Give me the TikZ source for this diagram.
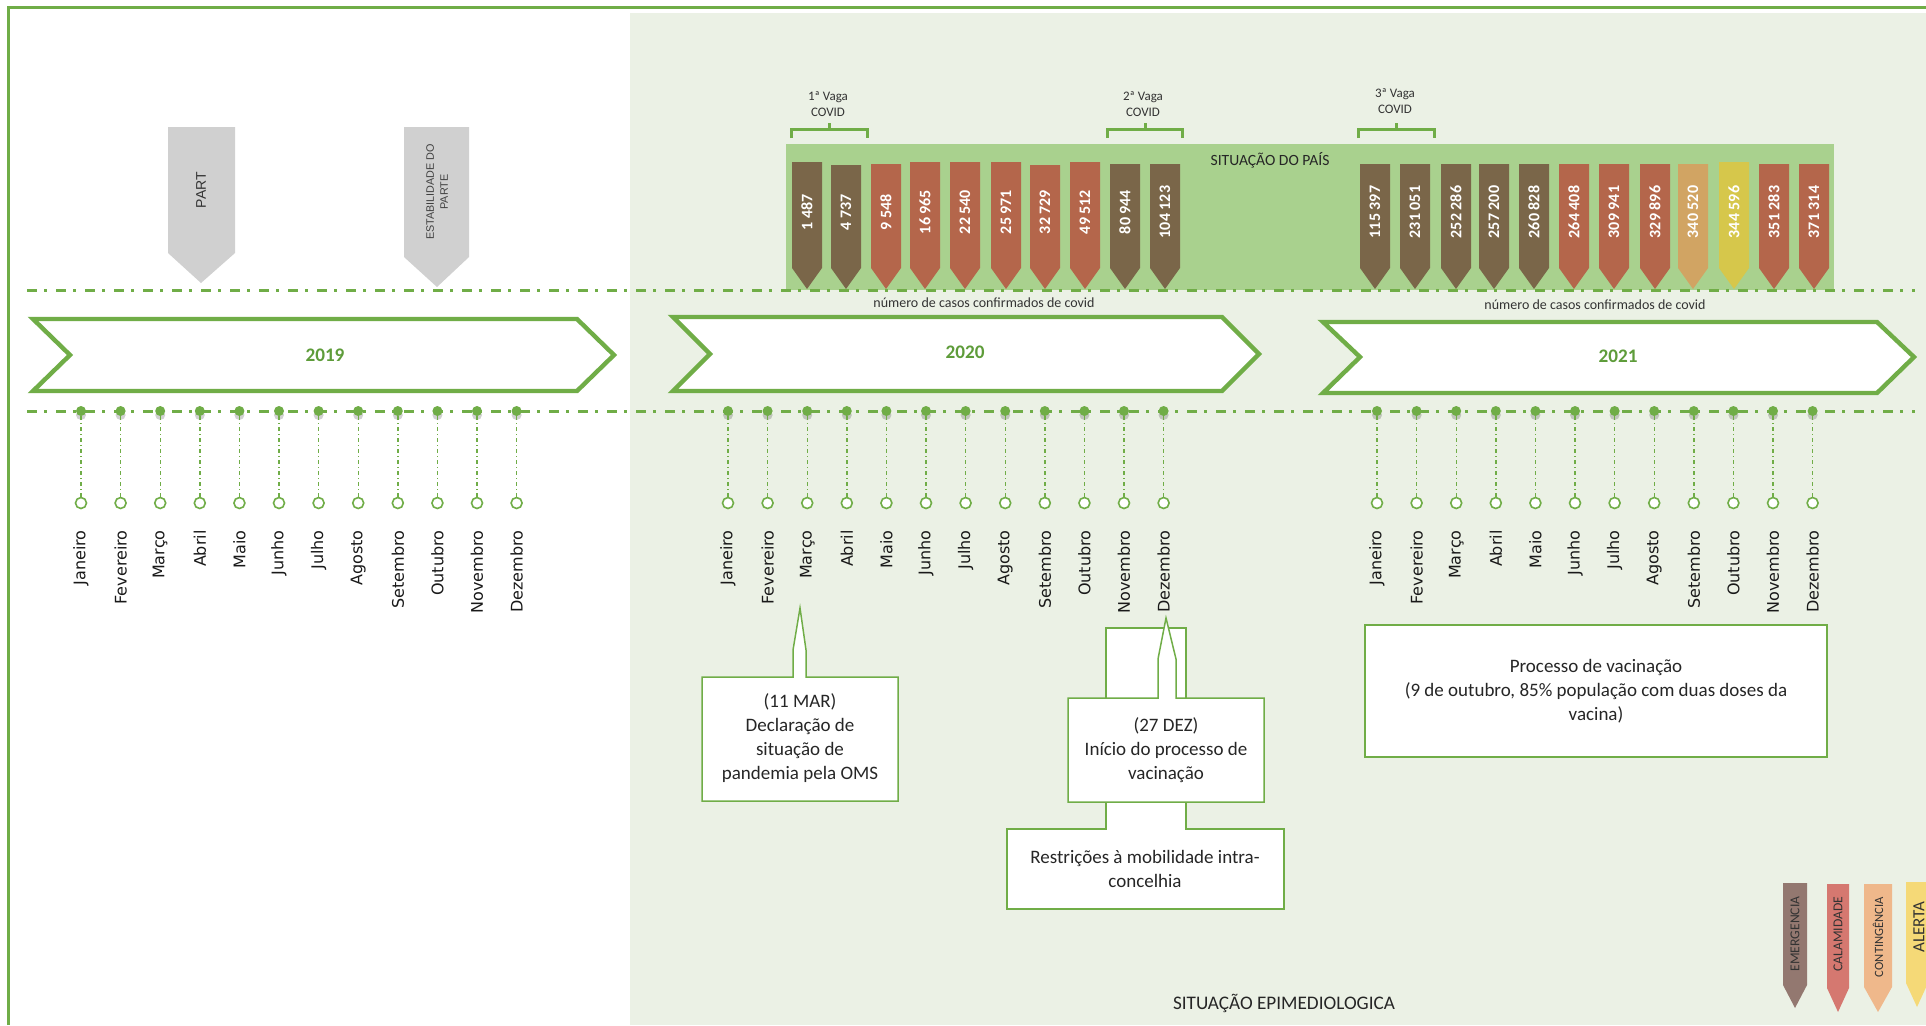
\documentclass[tikz,border=0pt]{standalone}
\usepackage{fontspec}
\setmainfont{Carlito}
\newfontfamily\monthfont{DejaVu Sans}
\newfontfamily\pinfont{Liberation Sans}
\usepackage{xcolor}
\usepackage{tikz}
\definecolor{framegreen}{HTML}{70AD47}
\definecolor{yeargreen}{HTML}{5E9C3A}
\definecolor{paleback}{HTML}{EBF1E5}
\definecolor{boxgreen}{HTML}{A9D18E}
\definecolor{levbrown}{HTML}{7A6649}
\definecolor{levred}{HTML}{B4664B}
\definecolor{levtan}{HTML}{D1A463}
\definecolor{levyellow}{HTML}{D6C74B}
\definecolor{pingray}{HTML}{D0D0D0}
\definecolor{legemerg}{HTML}{937870}
\definecolor{legcalam}{HTML}{D57870}
\definecolor{legconti}{HTML}{EFB88B}
\definecolor{legalert}{HTML}{F5D977}

\tikzset{
  yearbar/.style={draw=framegreen, fill=white, line width=2.2pt, line join=miter},
  yeartext/.style={font=\bfseries\fontsize{9.6}{11}\selectfont, text=yeargreen},
  timeline/.style={framegreen, line width=1.5pt, dash pattern=on 5pt off 3.5pt on 1.5pt off 4.5pt},
  tickline/.style={framegreen, line width=0.7pt, dash pattern=on 2pt off 1.5pt on 0.5pt off 1.5pt},
  monthdot/.style={circle, fill=framegreen, inner sep=0pt, minimum size=5pt},
  monthring/.style={circle, draw=framegreen, fill=white, line width=0.8pt, inner sep=0pt, minimum size=5.5pt},
  monthname/.style={font=\monthfont\fontsize{8}{9}\selectfont, text=black!90, rotate=90, anchor=east, inner sep=0pt},
  casenum/.style={font=\bfseries\fontsize{8}{9}\selectfont, text=white, rotate=90, inner sep=0pt},
  wavetext/.style={font=\fontsize{6.5}{7.8}\selectfont, text=black!80, align=center},
  bracket/.style={framegreen, line width=1.5pt},
  callbox/.style={draw=framegreen, fill=white, line width=0.75pt},
  calltext/.style={font=\fontsize{9.5}{12}\selectfont, text=black!85, align=center},
  legtext/.style={font=\fontsize{6.8}{8}\selectfont, text=black!80, rotate=90, inner sep=0pt},
}

% pin with a number: x, top, colour, name, label
\newcommand{\casepin}[5]{%
  \fill[#3] (#1-15,#2) -- (#1+15,#2) -- (#1+15,268) -- (#1,289) -- (#1-15,268) -- cycle;
  \node[casenum] (#4) at (#1,212) {#5};}

\begin{document}
\begin{tikzpicture}[x=0.5pt, y=-0.5pt]
  \useasboundingbox (0,0) rectangle (1926,1025);
  \fill[white] (0,0) rectangle (1926,1025);
  \fill[paleback] (630,13) rectangle (1926,1025);
  \draw[framegreen, line width=1.5pt] (8,1025) -- (8,7) -- (1926,7);

  % grey pins 2019
  \fill[pingray] (168,127) -- (235,127) -- (235,253) -- (201,283) -- (168,253) -- cycle;
  \node[font=\pinfont\fontsize{7}{8}\selectfont, text=black!80, rotate=90] (part) at (201,190) {PART};
  \fill[pingray] (404,127) -- (469,127) -- (469,257) -- (437,287) -- (404,257) -- cycle;
  \node[font=\pinfont\fontsize{5.4}{7}\selectfont, text=black!75, rotate=90, align=center] (estab) at (437,192) {ESTABILIDADE DO\\PARTE};

  % country situation
  \fill[boxgreen] (786,144) rectangle (1834,290);
  \node[font=\fontsize{7.8}{9}\selectfont, text=black!85] (pais) at (1270,160) {SITUAÇÃO DO PAÍS};

  % 2020 cases
  \casepin{807}{162}{levbrown}{c20-3}{1 487}
  \casepin{846}{165}{levbrown}{c20-4}{4 737}
  \casepin{886}{164}{levred}{c20-5}{9 548}
  \casepin{925}{162}{levred}{c20-6}{16 965}
  \casepin{965}{162}{levred}{c20-7}{22 540}
  \casepin{1006}{162}{levred}{c20-8}{25 971}
  \casepin{1045}{165}{levred}{c20-9}{32 729}
  \casepin{1085}{162}{levred}{c20-10}{49 512}
  \casepin{1125}{164}{levbrown}{c20-11}{80 944}
  \casepin{1165}{164}{levbrown}{c20-12}{104 123}
  % 2021 cases
  \casepin{1375}{164}{levbrown}{c21-1}{115 397}
  \casepin{1415}{164}{levbrown}{c21-2}{231 051}
  \casepin{1456}{164}{levbrown}{c21-3}{252 286}
  \casepin{1494}{164}{levbrown}{c21-4}{257 200}
  \casepin{1534}{164}{levbrown}{c21-5}{260 828}
  \casepin{1574}{164}{levred}{c21-6}{264 408}
  \casepin{1614}{164}{levred}{c21-7}{309 941}
  \casepin{1655}{164}{levred}{c21-8}{329 896}
  \casepin{1693}{164}{levtan}{c21-9}{340 520}
  \casepin{1734}{162}{levyellow}{c21-10}{344 596}
  \casepin{1774}{164}{levred}{c21-11}{351 283}
  \casepin{1814}{164}{levred}{c21-12}{371 314}

  % waves
  \draw[bracket] (791,138) -- (791,129) -- (867,129) -- (867,138) (829,129) -- (829,123);
  \node[wavetext] (vaga1) at (828,104) {1ª Vaga\\COVID};
  \draw[bracket] (1107,138) -- (1107,129) -- (1182,129) -- (1182,138) (1145,129) -- (1145,123);
  \node[wavetext] (vaga2) at (1143,104) {2ª Vaga\\COVID};
  \draw[bracket] (1358,138) -- (1358,129) -- (1434,129) -- (1434,138) (1396,129) -- (1396,123);
  \node[wavetext] (vaga3) at (1395,101) {3ª Vaga\\COVID};

  \draw[timeline] (27,290) -- (1915,290);
  \node[font=\fontsize{7}{8}\selectfont, text=black!80] (casos20) at (984,303) {número de casos confirmados de covid};
  \node[font=\fontsize{7}{8}\selectfont, text=black!80] (casos21) at (1595,305) {número de casos confirmados de covid};

  % years
  \draw[yearbar] (33,319) -- (577,319) -- (614,355) -- (577,391) -- (33,391) -- (70,355) -- cycle;
  \node[yeartext] (yr2019) at (325,355) {2019};
  \draw[yearbar] (673,317) -- (1222,317) -- (1259,354) -- (1222,391) -- (673,391) -- (710,354) -- cycle;
  \node[yeartext] (yr2020) at (965,352) {2020};
  \draw[yearbar] (1323,322) -- (1877,322) -- (1914,357) -- (1877,393) -- (1323,393) -- (1360,357) -- cycle;
  \node[yeartext] (yr2021) at (1618,356) {2021};

  % months
  \draw[timeline] (27,411) -- (1915,411);
  \foreach \yr/\xs in {2019/81, 2020/728, 2021/1377}{
    \foreach \mname [count=\i from 1] in {Janeiro,Fevereiro,Março,Abril,Maio,Junho,Julho,Agosto,Setembro,Outubro,Novembro,Dezembro}{
      \pgfmathsetmacro{\xm}{\xs+39.6*(\i-1)}
      \fill[black, opacity=0.18] (\xm,415) circle (5);
      \node[monthdot] (dot\yr-\i) at (\xm,411) {};
      \node[monthring] (ring\yr-\i) at (\xm,503) {};
      \draw[tickline] (dot\yr-\i) -- (ring\yr-\i);
      \node[monthname] (lbl\yr-\i) at (\xm,530) {\mname};
    }
  }

  % events
  \draw[callbox] (702,677) -- (793,677) -- (793,650) -- (800,608) -- (806,650) -- (806,677) -- (898,677) -- (898,801) -- (702,801) -- cycle;
  \node[calltext] (oms) at (800,738) {(11 MAR)\\Declaração de\\situação de\\pandemia pela OMS};
  \draw[callbox] (1007,829) -- (1106,829) -- (1106,628) -- (1186,628) -- (1186,829) -- (1284,829) -- (1284,909) -- (1007,909) -- cycle;
  \node[calltext] (restr) at (1145,869) {Restrições à mobilidade intra-\\concelhia};
  \draw[callbox] (1068,698) -- (1158,698) -- (1158,659) -- (1166,618) -- (1176,659) -- (1176,698) -- (1264,698) -- (1264,802) -- (1068,802) -- cycle;
  \node[calltext] (dez27) at (1166,750) {(27 DEZ)\\Início do processo de\\vacinação};
  \node[callbox, calltext, minimum width=231pt, minimum height=66pt] (vacbox) at (1596,691) {Processo de vacinação\\(9 de outubro, 85\% população com duas doses da\\vacina)};

  \node[font=\fontsize{9.6}{11}\selectfont, text=black!85] (epi) at (1284,1003) {SITUAÇÃO EPIMEDIOLOGICA};

  % legend
  \fill[legemerg] (1783,883) -- (1807,883) -- (1807,985) -- (1795,1008) -- (1783,985) -- cycle;
  \node[legtext] (lemerg) at (1795,934) {EMERGENCIA};
  \fill[legcalam] (1827,884) -- (1849,884) -- (1849,988) -- (1838,1012) -- (1827,988) -- cycle;
  \node[legtext] (lcalam) at (1838,934) {CALAMIDADE};
  \fill[legconti] (1864,884) -- (1892,884) -- (1892,987) -- (1878,1012) -- (1864,987) -- cycle;
  \node[legtext, font=\fontsize{6.3}{8}\selectfont] (lconti) at (1878,937) {CONTINGÊNCIA};
  \fill[legalert] (1906,882) -- (1928,882) -- (1928,983) -- (1917,1007) -- (1906,983) -- cycle;
  \node[legtext, font=\fontsize{8.5}{9}\selectfont] (lalert) at (1919,927) {ALERTA};
\end{tikzpicture}
\end{document}
